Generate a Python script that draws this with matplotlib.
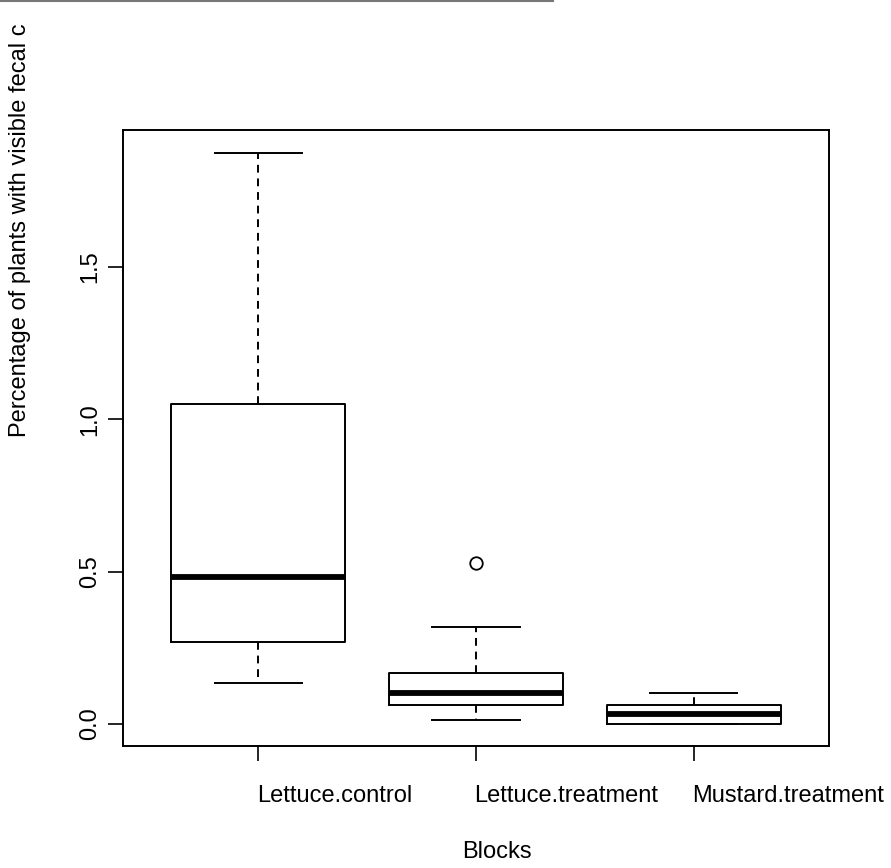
import matplotlib
matplotlib.use("Agg")
import matplotlib.pyplot as plt
from matplotlib.lines import Line2D

plt.rcParams['font.family'] = ['Liberation Sans', 'DejaVu Sans']

# values
groups = ["Lettuce.control", "Lettuce.treatment", "Mustard.treatment"]
whisk_lo = [0.134, 0.013, 0.0]
q1 = [0.269, 0.062, 0.0]
med = [0.483, 0.102, 0.033]
q3 = [1.050, 0.167, 0.062]
whisk_hi = [1.874, 0.318, 0.102]
outliers = [[], [0.528], []]
ylab = "Percentage of plants with visible fecal c"

stats = []
for i, g in enumerate(groups):
    stats.append(dict(label=g, whislo=whisk_lo[i], q1=q1[i], med=med[i],
                      q3=q3[i], whishi=whisk_hi[i], fliers=outliers[i]))

fig = plt.figure(figsize=(8.91, 8.68), dpi=100)
ax = fig.add_axes([123/891, 1-746/868, (829-123)/891, (746-130)/868])

ax.bxp(stats, positions=[1, 2, 3], widths=0.8, showfliers=True,
       boxprops=dict(color='black', linewidth=1.4),
       medianprops=dict(color='black', linewidth=4.2, solid_capstyle='butt'),
       whiskerprops=dict(color='black', linewidth=1.4, linestyle=(0, (4, 3))),
       capprops=dict(color='black', linewidth=1.4),
       flierprops=dict(marker='o', markerfacecolor='none', markeredgecolor='black',
                       markersize=9, markeredgewidth=1.3),
       capwidths=0.4)

ax.set_xlim(0.38, 3.62)
ax.set_ylim(-0.072, 1.949)

for s in ax.spines.values():
    s.set_linewidth(1.4)

ax.set_yticks([0.0, 0.5, 1.0, 1.5])
ax.set_yticklabels(["0.0", "0.5", "1.0", "1.5"], rotation=90, va='center', fontsize=17)
ax.tick_params(axis='y', length=11, width=1.2, pad=5)
ax.set_xticks([1, 2, 3])
ax.set_xticklabels([])
ax.tick_params(axis='x', length=11, width=1.2)

for i, g in enumerate(groups):
    ax.annotate(g, xy=(i + 1, 0), xycoords=('data', 'axes fraction'),
                xytext=(-1, -36), textcoords='offset points',
                ha='left', va='center', fontsize=17, annotation_clip=False)

fig.text(497/891, 1-852/868, "Blocks", ha='center', va='center', fontsize=17)
fig.text(20/891, 1-437/868, ylab,
         rotation=90, rotation_mode='anchor', ha='left', va='center', fontsize=17)

# thin grey rule along the top edge
fig.add_artist(Line2D([0, 553/891], [1-1/868, 1-1/868], color='#777777', linewidth=1.5))

fig.savefig("out.png", dpi=100)
